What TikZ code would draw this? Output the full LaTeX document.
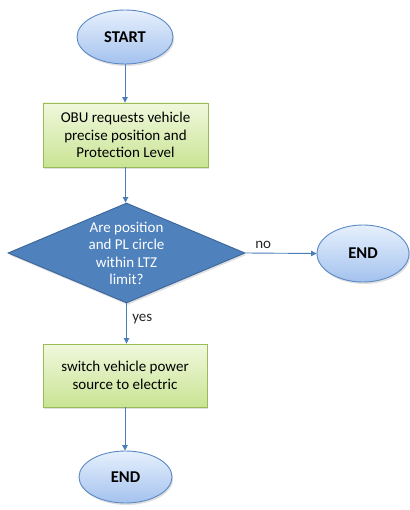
\documentclass[tikz,border=0pt]{standalone}
\usepackage{fontspec}
\setmainfont{Carlito}
\usetikzlibrary{shapes.geometric,arrows.meta,shadows}
\definecolor{termtop}{HTML}{E6F0FD}
\definecolor{termbot}{HTML}{A4C2EE}
\definecolor{termline}{HTML}{5B89C4}
\definecolor{proctop}{HTML}{F0F8DC}
\definecolor{procbot}{HTML}{C9E494}
\definecolor{procline}{HTML}{9BBB59}
\definecolor{decfill}{HTML}{4F81BD}
\definecolor{decline}{HTML}{3B6699}
\definecolor{flow}{HTML}{4A7EBB}
\tikzset{
  softshadow/.style={drop shadow={opacity=0.25,shadow xshift=1.2pt,shadow yshift=-2pt}},
  terminal/.style={ellipse,draw=termline,line width=0.9pt,top color=termtop,bottom color=termbot,
    inner sep=0pt,softshadow,font=\fontsize{16.5}{19}\selectfont\bfseries},
  process/.style={rectangle,draw=procline,line width=0.9pt,top color=proctop,bottom color=procbot,
    inner sep=0pt,align=center,softshadow,font=\fontsize{15}{17.5}\selectfont},
  decision/.style={diamond,draw=decline,line width=0.9pt,fill=decfill,inner sep=0pt,softshadow},
  dectext/.style={text=white,align=center,font=\fontsize{15}{17.5}\selectfont},
  flowline/.style={draw=flow,line width=0.9pt,-{Triangle[length=5.5pt,width=5.5pt]}},
  flowlabel/.style={font=\fontsize{15}{17}\selectfont,text=black!85}
}
\begin{document}
\begin{tikzpicture}[x=1pt,y=-1pt]
  \useasboundingbox (0,0) rectangle (409,510);
  % terminals and steps
  \node[terminal,minimum width=96pt,minimum height=54pt] (start) at (125,37) {START};
  \node[process,minimum width=165pt,minimum height=64pt] (request) at (125.5,135)
    {OBU requests vehicle\\precise position and\\Protection Level};
  \node[decision,minimum width=237pt,minimum height=100pt] (check) at (126.5,253) {};
  \node[dectext] (checktext) at (126.5,253.5) {Are position\\and PL circle\\within LTZ\\limit?};
  \node[terminal,minimum width=92pt,minimum height=57pt] (endno) at (363,253.5) {END};
  \node[process,minimum width=164pt,minimum height=63pt] (switch) at (125,375.5)
    {switch vehicle power\\source to electric};
  \node[terminal,minimum width=93pt,minimum height=52pt] (endyes) at (125.5,477) {END};
  % connectors
  \draw[flowline] (start.south) -- (start.south |- request.north);
  \draw[flowline] (request.south) -- (request.south |- check.north);
  \draw[flowline] (check.east) -- node[flowlabel,above=1pt,pos=0.25] {no} (endno.west);
  \draw[flowline] (check.south) -- node[flowlabel,right=2pt,pos=0.4] {yes} (check.south |- switch.north);
  \draw[flowline] (switch.south) -- (switch.south |- endyes.north);
\end{tikzpicture}
\end{document}
